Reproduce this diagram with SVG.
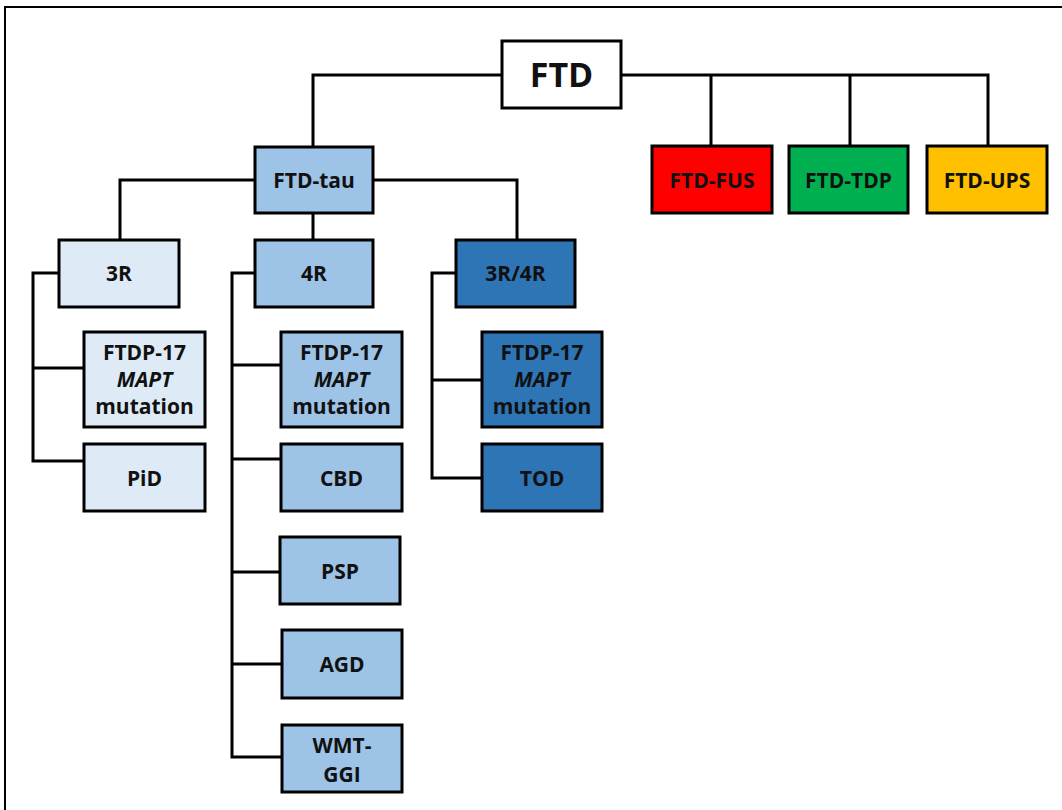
<svg xmlns="http://www.w3.org/2000/svg" width="1062" height="810" viewBox="0 0 1062 810">
<style>
.b{stroke:#000;stroke-width:3}
.t{font-family:"Open Sans","Liberation Sans",sans-serif;font-weight:bold;font-size:21px;fill:#111;text-anchor:middle}
.l{fill:none;stroke:#000;stroke-width:3}
.c1{fill:#DEEBF7}.c2{fill:#9DC3E6}.c3{fill:#2E75B6}
</style>
<rect x="0" y="0" width="1062" height="810" fill="#fff"/>
<path d="M5,810 V7 H1062" fill="none" stroke="#000" stroke-width="2"/>
<g id="connectors" class="l">
<path d="M313,147 V75 H502 M621,75 H988 V146 M711,75 V146 M850,75 V146"/>
<path d="M255,180 H120 V240 M373,180 H517 V240 M313,213 V240"/>
<path d="M59,273 H33 V461 H84 M33,368 H84"/>
<path d="M255,273 H232 V757 H282 M232,365 H281 M232,459 H281 M232,572 H280 M232,664 H282"/>
<path d="M456,273 H432 V478 H482 M432,380 H482"/>
</g>
<g id="FTD"><rect class="b" x="502" y="41" width="119" height="67" fill="#fff"/><text class="t" x="561.5" y="87" style="font-size:34px">FTD</text></g>
<g id="FTD-tau"><rect class="b c2" x="255" y="147" width="118" height="66"/><text class="t" x="314" y="188">FTD-tau</text></g>
<g id="FTD-FUS"><rect class="b" x="652" y="146" width="120" height="67" fill="#FF0000"/><text class="t" x="712" y="188">FTD-FUS</text></g>
<g id="FTD-TDP"><rect class="b" x="789" y="146" width="119" height="67" fill="#00B050"/><text class="t" x="848.5" y="188">FTD-TDP</text></g>
<g id="FTD-UPS"><rect class="b" x="927" y="146" width="120" height="67" fill="#FFC000"/><text class="t" x="987" y="188">FTD-UPS</text></g>
<g id="n3R"><rect class="b c1" x="59" y="240" width="120" height="67"/><text class="t" x="119" y="281">3R</text></g>
<g id="n4R"><rect class="b c2" x="255" y="240" width="118" height="67"/><text class="t" x="314" y="281">4R</text></g>
<g id="n3R4R"><rect class="b c3" x="456" y="240" width="119" height="67"/><text class="t" x="515.5" y="281">3R/4R</text></g>
<g id="FTDP-3R"><rect class="b c1" x="84" y="332" width="121" height="95"/><text class="t" x="144.5" y="360">FTDP-17<tspan x="144.5" dy="27" font-style="italic">MAPT</tspan><tspan x="144.5" dy="27">mutation</tspan></text></g>
<g id="PiD"><rect class="b c1" x="84" y="444" width="121" height="67"/><text class="t" x="144.5" y="486">PiD</text></g>
<g id="FTDP-4R"><rect class="b c2" x="281" y="332" width="121" height="95"/><text class="t" x="341.5" y="360">FTDP-17<tspan x="341.5" dy="27" font-style="italic">MAPT</tspan><tspan x="341.5" dy="27">mutation</tspan></text></g>
<g id="CBD"><rect class="b c2" x="281" y="444" width="121" height="67"/><text class="t" x="341.5" y="486">CBD</text></g>
<g id="PSP"><rect class="b c2" x="280" y="537" width="120" height="67"/><text class="t" x="340" y="579">PSP</text></g>
<g id="AGD"><rect class="b c2" x="282" y="630" width="120" height="68"/><text class="t" x="342" y="672">AGD</text></g>
<g id="WMT-GGI"><rect class="b c2" x="282" y="725" width="120" height="67"/><text class="t" x="342" y="753">WMT-<tspan x="342" dy="29">GGI</tspan></text></g>
<g id="FTDP-34R"><rect class="b c3" x="482" y="332" width="120" height="95"/><text class="t" x="542" y="360">FTDP-17<tspan x="542" dy="27" font-style="italic">MAPT</tspan><tspan x="542" dy="27">mutation</tspan></text></g>
<g id="TOD"><rect class="b c3" x="482" y="444" width="120" height="67"/><text class="t" x="542" y="486">TOD</text></g>
</svg>
